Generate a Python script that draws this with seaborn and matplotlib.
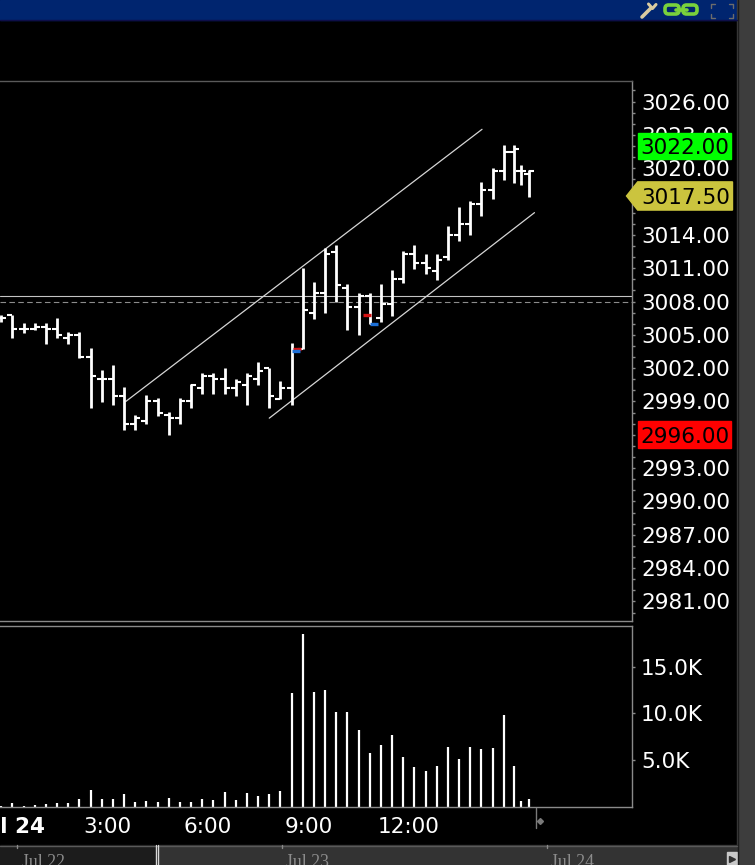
import numpy as np
import pandas as pd
import matplotlib
matplotlib.use("Agg")
import matplotlib.pyplot as plt
import matplotlib.transforms as mtransforms
from matplotlib.patches import Rectangle, Polygon, FancyBboxPatch
from matplotlib.ticker import MultipleLocator
import seaborn as sns

# 20 minute bars, session starting the evening before Jul 24
bar_times = ["23:50", "00:10", "00:30", "00:50", "01:10", "01:30", "01:50",
             "02:10", "02:30", "02:50", "03:10", "03:30", "03:50", "04:10",
             "04:30", "04:50", "05:10", "05:30", "05:50", "06:10", "06:30",
             "06:50", "07:10", "07:30", "07:50", "08:10", "08:30", "08:50",
             "09:10", "09:30", "09:50", "10:10", "10:30", "10:50", "11:10",
             "11:30", "11:50", "12:10", "12:30", "12:50", "13:10", "13:30",
             "13:50", "14:10", "14:30", "14:50", "15:08", "15:20", "15:35"]
opens = [3006.5, 3006.75, 3005.5, 3005.5, 3005.75, 3005.5, 3004.75, 3005.0,
         3003.0, 3001.0, 3001.0, 2999.5, 2997.0, 2997.25, 2999.0, 2997.75,
         2997.5, 2999.0, 3000.25, 3001.25, 3001.0, 3000.25, 3000.5, 3001.0,
         3002.0, 2999.25, 3000.25, 3003.75, 3007.0, 3008.75, 3012.5, 3009.25,
         3007.5, 3008.5, 3006.5, 3007.75, 3010.0, 3012.25, 3011.5, 3010.75,
         3012.0, 3014.0, 3015.0, 3016.75, 3018.0, 3019.75, 3021.5, 3019.75,
         3019.5]
highs = [3006.75, 3006.75, 3006.0, 3006.0, 3006.0, 3006.5, 3005.25, 3005.25,
         3003.75, 3001.75, 3002.25, 3000.25, 2997.75, 2999.5, 2999.25, 2998.0,
         2999.25, 3000.5, 3001.5, 3001.5, 3002.0, 3001.0, 3001.5, 3002.5,
         3002.0, 3000.75, 3004.25, 3011.0, 3009.75, 3012.75, 3013.0, 3009.5,
         3008.75, 3008.75, 3009.5, 3010.75, 3012.5, 3013.0, 3012.25, 3012.25,
         3014.75, 3016.5, 3017.0, 3018.75, 3020.0, 3022.0, 3022.0, 3020.25,
         3019.75]
lows = [3006.25, 3004.75, 3005.25, 3005.5, 3004.25, 3004.75, 3004.25, 3003.0,
        2998.5, 2999.0, 2998.75, 2996.5, 2996.5, 2997.0, 2997.75, 2996.0,
        2997.0, 2998.5, 2999.75, 2999.75, 2999.75, 2999.5, 2998.75, 3000.5,
        2998.5, 2999.25, 2998.75, 3003.75, 3006.5, 3007.0, 3008.0, 3005.5,
        3005.0, 3006.0, 3006.25, 3006.75, 3009.75, 3011.0, 3010.5, 3010.0,
        3011.75, 3013.5, 3014.0, 3015.75, 3017.25, 3019.0, 3018.75, 3018.5,
        3017.5]
closes = [3006.5, 3005.5, 3005.5, 3005.75, 3005.5, 3005.0, 3005.0, 3003.0,
          3001.25, 3001.0, 2999.5, 2997.0, 2997.5, 2999.0, 2998.0, 2997.5,
          2999.0, 3000.5, 3001.25, 3001.0, 3000.25, 3000.75, 3001.25, 3001.75,
          2999.5, 3000.25, 3003.5, 3007.25, 3008.75, 3012.25, 3009.5, 3007.5,
          3008.5, 3006.0, 3007.75, 3010.0, 3012.25, 3011.5, 3011.0, 3011.75,
          3014.0, 3015.0, 3016.75, 3018.0, 3019.75, 3021.5, 3021.75, 3019.75,
          3019.75]
volume_k = [0.1, 0.45, 0.1, 0.2, 0.3, 0.45, 0.45, 0.85, 1.8, 0.85, 0.85, 1.4,
            0.55, 0.65, 0.55, 0.95, 0.55, 0.55, 0.85, 0.75, 1.6, 0.75, 1.5,
            1.2, 1.4, 1.7, 12.15, 18.5, 12.25, 12.5, 10.1, 10.2, 8.2, 5.8, 6.6,
            7.7, 5.3, 4.3, 3.8, 4.4, 6.45, 5.15, 6.45, 6.2, 6.35, 9.8, 4.4,
            0.65, 0.85]

# trend channel drawn on the chart
upper_times = ["03:33", "14:11"]
upper_prices = [2999.0, 3023.5]
lower_times = ["07:50", "15:45"]
lower_prices = [2997.5, 3016.0]

# reference lines
ref_solid = 3008.5
ref_dashed = 3008.0

# red / blue execution marks
mark_times = ["08:40", "08:38", "10:45", "10:58"]
mark_prices = [3003.75, 3003.5, 3006.75, 3006.0]
mark_colors = ["#d41414", "#1c6fd6", "#d41414", "#1c6fd6"]

# price tags on the axis
high_tag = 3022.00
low_tag = 2996.00
last_tag = 3017.50

time_labels = ["3:00", "6:00", "9:00", "12:00"]
nav_labels = ["Jul 22", "Jul 23", "Jul 24"]


def to_hours(t):
    h, m = t.split(":")
    v = int(h) + int(m) / 60
    return v - 24 if v > 20 else v


df = pd.DataFrame({"time": [to_hours(t) for t in bar_times], "open": opens,
                   "high": highs, "low": lows, "close": closes,
                   "volume": volume_k})

sns.set_theme(style="dark", rc={"axes.facecolor": "black",
                                "figure.facecolor": "black"})
plt.rcParams["font.family"] = ["DejaVu Sans"]

W, H = 755, 865


def box(left, top, right, bottom):
    return [left / W, 1 - bottom / H, (right - left) / W, (bottom - top) / H]


fig = plt.figure(figsize=(7.55, 8.65), dpi=100)
fig.patch.set_facecolor("black")

ax = fig.add_axes(box(0, 81, 632, 621))
axv = fig.add_axes(box(0, 626, 632, 807), sharex=ax)
for a in (ax, axv):
    a.set_facecolor("black")
    a.grid(False)
    a.spines["left"].set_visible(False)
    for s in ("top", "right", "bottom"):
        a.spines[s].set_color("#8a8a8a")
        a.spines[s].set_linewidth(1)
ax.spines["top"].set_color("#5a5a5a")

tk = 0.15
t = df["time"]

# reference lines
ax.axhline(ref_solid, color="#c4c4c4", lw=0.8, zorder=1)
ax.axhline(ref_dashed, color="#8c8c8c", lw=0.8, ls=(0, (5, 3)), zorder=1)

# channel
sns.lineplot(x=[to_hours(v) for v in upper_times], y=upper_prices, ax=ax,
             color="#d6d6d6", lw=0.9, zorder=2)
sns.lineplot(x=[to_hours(v) for v in lower_times], y=lower_prices, ax=ax,
             color="#d6d6d6", lw=0.9, zorder=2)

# OHLC bars
ax.vlines(t, df["low"] - 0.05, df["high"] + 0.05, color="white", lw=2.0,
          zorder=3)
ax.hlines(df["open"], t - tk, t, color="white", lw=1.5, zorder=3)
ax.hlines(df["close"], t, t + tk, color="white", lw=1.5, zorder=3)

mt = np.array([to_hours(v) for v in mark_times])
ax.hlines(mark_prices, mt - 0.12, mt + 0.12, colors=mark_colors, lw=2.4,
          zorder=4)

ax.set_xlim(-0.203, 18.66)
ax.set_ylim(2979.24, 3027.85)
ax.set_xlabel("")
ax.set_ylabel("")
ax.yaxis.tick_right()
yt = np.arange(2981, 3027, 3)
ax.set_yticks(yt)
ax.set_yticklabels([f"{v:.2f}" for v in yt])
ax.yaxis.set_minor_locator(MultipleLocator(1))
ax.tick_params(axis="y", which="both", direction="out", length=2.5, width=1,
               color="#8a8a8a", labelcolor="white", labelsize=15.5, pad=4)
ax.tick_params(axis="x", which="both", bottom=False, labelbottom=False)

# tags
bt = mtransforms.blended_transform_factory(ax.transAxes, ax.transData)
x0, x1 = 637.7 / 632, 730.5 / 632
for val, col in [(high_tag, "#00ff00"), (low_tag, "#ff0000")]:
    ax.add_patch(Rectangle((x0, val - 1.2), x1 - x0, 2.4, color=col,
                           transform=bt, clip_on=False, zorder=6))
    ax.text(640 / 632, val, f"{val:.2f}", transform=bt, color="black",
            fontsize=15.5, ha="left", va="center_baseline", zorder=7,
            clip_on=False)
tip = 626.5 / 632
xr = 732.5 / 632
ax.add_patch(Polygon([(tip, last_tag), (x0, last_tag + 1.27),
                      (xr, last_tag + 1.27), (xr, last_tag - 1.27),
                      (x0, last_tag - 1.27)], closed=True, color="#cbc43e",
                     transform=bt, clip_on=False, zorder=6))
ax.text(641 / 632, last_tag, f"{last_tag:.2f}", transform=bt, color="black",
        fontsize=15.5, ha="left", va="center_baseline", zorder=7,
        clip_on=False)

# volume
axv.vlines(t, 0, df["volume"], color="white", lw=1.6)
axv.set_ylim(0, 19.34)
axv.yaxis.tick_right()
axv.set_yticks([5, 10, 15])
axv.set_yticklabels(["5.0K", "10.0K", "15.0K"])
axv.tick_params(axis="y", direction="out", length=2.5, width=1,
                color="#8a8a8a", labelcolor="white", labelsize=15.5, pad=4)
axv.tick_params(axis="x", which="both", bottom=False, labelbottom=False)

bv = mtransforms.blended_transform_factory(axv.transData, axv.transAxes)
ty = (807 - 833) / 181
for lab in time_labels:
    axv.text(to_hours(lab), ty, lab, transform=bv, color="white",
             fontsize=15.5, ha="center", va="baseline", clip_on=False)
axv.text(0.12, ty, "Jul 24", transform=bv, color="white", fontsize=15.5,
         fontweight="bold", ha="center", va="baseline", clip_on=False)
axv.plot([15.8, 15.8], [-0.006, -0.116], color="#7a7a7a", lw=1,
         transform=bv, clip_on=False)
axv.plot([15.92], [-0.076], marker="D", ms=3, color="#7a7a7a",
         transform=bv, clip_on=False)

# window chrome
ov = fig.add_axes([0, 0, 1, 1], zorder=10)
ov.set_xlim(0, W)
ov.set_ylim(H, 0)
ov.axis("off")
ov.patch.set_alpha(0)

ov.add_patch(Rectangle((0, 0), 738, 19.5, color="#00256f"))
ov.plot([0, 738], [19.5, 19.5], color="#0e0e48", lw=1)
ov.add_patch(Rectangle((737, 0), 18, H, color="#3d3d3d"))
ov.plot([737.5, 737.5], [0, H], color="#1c1c1c", lw=1)

# wrench
ov.plot([642, 651], [17, 8], color="#d9cba0", lw=2.6, solid_capstyle="round")
ov.plot([648.5, 652.5, 656], [4, 8.5, 4.5], color="#d9cba0", lw=2.2)
# chain
for cx in (665, 683):
    ov.add_patch(FancyBboxPatch((cx, 5), 14, 9,
                                boxstyle="round,pad=0,rounding_size=3.5",
                                fill=False, ec="#79d13c", lw=2.6))
ov.plot([676, 687], [9.5, 9.5], color="#79d13c", lw=2.6)
# dashed frame corners
for (cx, cy, dx, dy) in [(711, 4, 1, 1), (733, 4, -1, 1), (711, 18, 1, -1),
                         (733, 18, -1, -1)]:
    ov.plot([cx + 4 * dx, cx, cx], [cy, cy, cy + 4 * dy], color="#6c6c6c",
            lw=1)

# navigator
ov.add_patch(Rectangle((0, 845), 155, 20, color="#1c1c1c"))
ov.add_patch(Rectangle((158, 845), 579, 20, color="#333333"))
ov.plot([0, 737], [845.5, 845.5], color="#5a5a5a", lw=1)
ov.plot([155.5, 155.5], [845, H], color="#d8d8d8", lw=1)
ov.plot([157.5, 157.5], [845, H], color="#d8d8d8", lw=1)
for nx, lab in zip([17, 282, 546.5], nav_labels):
    ov.plot([nx, nx], [845, 848], color="#8a8a8a", lw=1)
    ov.text(nx + 4.5, 866.8, lab, color="#8c8c8c", fontsize=12.8,
            family=["Liberation Serif", "DejaVu Serif"], ha="left",
            va="baseline", clip_on=False)
ov.add_patch(Rectangle((727, 852), 10, 13, color="#c8c8c8"))
ov.plot([732], [859], marker=">", ms=4, color="#303030")

fig.savefig("out.png", dpi=100, facecolor="black")
